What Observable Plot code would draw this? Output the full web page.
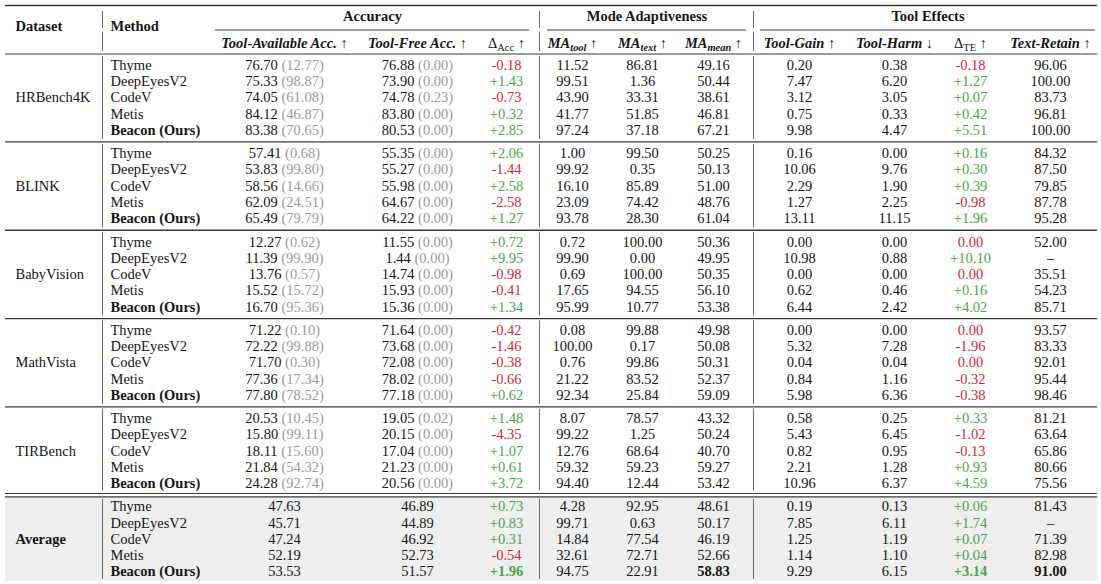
<!DOCTYPE html>
<html>
<head>
<meta charset="utf-8">
<script src="https://cdn.jsdelivr.net/npm/d3@7"></script>
<script src="https://cdn.jsdelivr.net/npm/@observablehq/plot@0.6"></script>
<style>
  html, body { margin: 0; padding: 0; background: #ffffff; }
  #chart { width: 1101px; height: 584px; }
</style>
</head>
<body>
<div id="chart"></div>
<script>
// ---------------- DATA ----------------
const datasets = ["HRBench4K", "BLINK", "BabyVision", "MathVista", "TIRBench", "Average"];
const methods = ["Thyme", "DeepEyesV2", "CodeV", "Metis", "Beacon (Ours)"];
const groupHeaders = ["Accuracy", "Mode Adaptiveness", "Tool Effects"];
const columnHeaders = ["Tool-Available Acc. ↑", "Tool-Free Acc. ↑", "Δ_{Acc} ↑",
  "MA_{tool} ↑", "MA_{text} ↑", "MA_{mean} ↑",
  "Tool-Gain ↑", "Tool-Harm ↓", "Δ_{TE} ↑", "Text-Retain ↑"];

// row = [toolAcc, toolUse, freeAcc, freeUse, dAcc, maTool, maText, maMean, toolGain, toolHarm, dTE, textRetain]
const HRBench4K = [
  [76.70, 12.77, 76.88, 0.00, -0.18, 11.52, 86.81, 49.16, 0.20, 0.38, -0.18, 96.06],
  [75.33, 98.87, 73.90, 0.00, 1.43, 99.51, 1.36, 50.44, 7.47, 6.20, 1.27, 100.00],
  [74.05, 61.08, 74.78, 0.23, -0.73, 43.90, 33.31, 38.61, 3.12, 3.05, 0.07, 83.73],
  [84.12, 46.87, 83.80, 0.00, 0.32, 41.77, 51.85, 46.81, 0.75, 0.33, 0.42, 96.81],
  [83.38, 70.65, 80.53, 0.00, 2.85, 97.24, 37.18, 67.21, 9.98, 4.47, 5.51, 100.00]
];
const BLINK = [
  [57.41, 0.68, 55.35, 0.00, 2.06, 1.00, 99.50, 50.25, 0.16, 0.00, 0.16, 84.32],
  [53.83, 99.80, 55.27, 0.00, -1.44, 99.92, 0.35, 50.13, 10.06, 9.76, 0.30, 87.50],
  [58.56, 14.66, 55.98, 0.00, 2.58, 16.10, 85.89, 51.00, 2.29, 1.90, 0.39, 79.85],
  [62.09, 24.51, 64.67, 0.00, -2.58, 23.09, 74.42, 48.76, 1.27, 2.25, -0.98, 87.78],
  [65.49, 79.79, 64.22, 0.00, 1.27, 93.78, 28.30, 61.04, 13.11, 11.15, 1.96, 95.28]
];
const BabyVision = [
  [12.27, 0.62, 11.55, 0.00, 0.72, 0.72, 100.00, 50.36, 0.00, 0.00, 0.00, 52.00],
  [11.39, 99.90, 1.44, 0.00, 9.95, 99.90, 0.00, 49.95, 10.98, 0.88, 10.10, null],
  [13.76, 0.57, 14.74, 0.00, -0.98, 0.69, 100.00, 50.35, 0.00, 0.00, 0.00, 35.51],
  [15.52, 15.72, 15.93, 0.00, -0.41, 17.65, 94.55, 56.10, 0.62, 0.46, 0.16, 54.23],
  [16.70, 95.36, 15.36, 0.00, 1.34, 95.99, 10.77, 53.38, 6.44, 2.42, 4.02, 85.71]
];
const MathVista = [
  [71.22, 0.10, 71.64, 0.00, -0.42, 0.08, 99.88, 49.98, 0.00, 0.00, 0.00, 93.57],
  [72.22, 99.88, 73.68, 0.00, -1.46, 100.00, 0.17, 50.08, 5.32, 7.28, -1.96, 83.33],
  [71.70, 0.30, 72.08, 0.00, -0.38, 0.76, 99.86, 50.31, 0.04, 0.04, 0.00, 92.01],
  [77.36, 17.34, 78.02, 0.00, -0.66, 21.22, 83.52, 52.37, 0.84, 1.16, -0.32, 95.44],
  [77.80, 78.52, 77.18, 0.00, 0.62, 92.34, 25.84, 59.09, 5.98, 6.36, -0.38, 98.46]
];
const TIRBench = [
  [20.53, 10.45, 19.05, 0.02, 1.48, 8.07, 78.57, 43.32, 0.58, 0.25, 0.33, 81.21],
  [15.80, 99.11, 20.15, 0.00, -4.35, 99.22, 1.25, 50.24, 5.43, 6.45, -1.02, 63.64],
  [18.11, 15.60, 17.04, 0.00, 1.07, 12.76, 68.64, 40.70, 0.82, 0.95, -0.13, 65.86],
  [21.84, 54.32, 21.23, 0.00, 0.61, 59.32, 59.23, 59.27, 2.21, 1.28, 0.93, 80.66],
  [24.28, 92.74, 20.56, 0.00, 3.72, 94.40, 12.44, 53.42, 10.96, 6.37, 4.59, 75.56]
];
const Average = [
  [47.63, null, 46.89, null, 0.73, 4.28, 92.95, 48.61, 0.19, 0.13, 0.06, 81.43],
  [45.71, null, 44.89, null, 0.83, 99.71, 0.63, 50.17, 7.85, 6.11, 1.74, null],
  [47.24, null, 46.92, null, 0.31, 14.84, 77.54, 46.19, 1.25, 1.19, 0.07, 71.39],
  [52.19, null, 52.73, null, -0.54, 32.61, 72.71, 52.66, 1.14, 1.10, 0.04, 82.98],
  [53.53, null, 51.57, null, 1.96, 94.75, 22.91, 58.83, 9.29, 6.15, 3.14, 91.00]
];
const tables = [HRBench4K, BLINK, BabyVision, MathVista, TIRBench, Average];
// best results highlighted in bold: [dataset, method, column index]
const highlighted = [["Average", "Beacon (Ours)", 2], ["Average", "Beacon (Ours)", 5],
  ["Average", "Beacon (Ours)", 8], ["Average", "Beacon (Ours)", 9]];

// ---------------- LAYOUT / STYLE ----------------
const layout = {
  width: 1101, height: 584,
  tableX1: 5, tableX2: 1097,
  topRuleY: 5, groupHeadY: 16, cmidY: 29.5, subHeadY: 42.5, headRuleY: 53.5, cornerHeadY: 25.5,
  firstRowY: 64.8, rowStep: 16.25, groupStep: 88.3,
  datasetX: 15, methodX: 110,
  vlineX: [102, 539, 753],
  colX: [284, 417, 506, 572, 642, 713, 799, 894, 970, 1050],
  groupSpans: [[215, 529], [547, 746], [760, 1095]],
  greyBottom: 581, fontSize: 14.5
};
const style = {
  ink: "#161616", paren: "#9b9b9b", pos: "#4ea24e", neg: "#cf2b3a",
  rule: "#3a3a3a", vline: "#6a6a6a", grey: "#efefef",
  font: "Liberation Serif, Times New Roman, serif"
};

const rowY = (g, r) => layout.firstRowY + g * layout.groupStep + r * layout.rowStep;
const ruleAfter = (g) => rowY(g, 4) + (layout.groupStep - 4 * layout.rowStep) / 2;

const fmt = d3.format(".2f");
const signed = (v) => v > 0 ? "+" + fmt(v) : v < 0 ? "-" + fmt(-v) : fmt(0);

// ---------------- BUILD CELLS ----------------
const cells = [];
tables.forEach((rows, g) => {
  rows.forEach((v, r) => {
    const [toolAcc, toolUse, freeAcc, freeUse, dAcc, maTool, maText, maMean, gain, harm, dTE, retain] = v;
    const texts = [
      toolUse == null ? fmt(toolAcc) : `${fmt(toolAcc)} (${fmt(toolUse)})`,
      freeUse == null ? fmt(freeAcc) : `${fmt(freeAcc)} (${fmt(freeUse)})`,
      signed(dAcc), fmt(maTool), fmt(maText), fmt(maMean), fmt(gain), fmt(harm),
      signed(dTE), retain == null ? "–" : fmt(retain)
    ];
    texts.forEach((t, c) => {
      let fill = style.ink;
      if (c === 2) fill = dAcc > 0 ? style.pos : style.neg;
      if (c === 8) fill = dTE > 0 ? style.pos : style.neg;
      const bold = highlighted.some(([d, m, k]) => d === datasets[g] && m === methods[r] && k === c);
      cells.push({x: layout.colX[c], y: rowY(g, r), text: t, fill, bold});
    });
  });
});

const methodRows = [];
datasets.forEach((d, g) => methods.forEach((m, r) =>
  methodRows.push({x: layout.methodX, y: rowY(g, r), text: m, bold: m === "Beacon (Ours)"})));
const datasetRows = datasets.map((d, g) => ({x: layout.datasetX, y: rowY(g, 2), text: d, bold: d === "Average"}));

const groupHeadRows = groupHeaders.map((h, i) => ({
  x: (layout.groupSpans[i][0] + layout.groupSpans[i][1]) / 2, y: layout.groupHeadY, text: h}));
const colHeadRows = columnHeaders.map((h, i) => ({
  x: layout.colX[i], y: layout.subHeadY, text: h, math: h.startsWith("Δ")}));

// rules
const fullRules = [{y: layout.topRuleY, w: 1.6}, {y: layout.headRuleY, w: 1.1}];
for (let g = 0; g < 4; g++) fullRules.push({y: ruleAfter(g), w: 1.3});
const dbl = ruleAfter(4);
fullRules.push({y: dbl - 1.7, w: 1.1}, {y: dbl + 1.7, w: 1.1});
const cmidRules = layout.groupSpans.map(([a, b]) => ({x1: a, x2: b, y: layout.cmidY}));

const vSegs = [];
layout.vlineX.forEach((x) => {
  vSegs.push({x, y1: layout.topRuleY + 6, y2: layout.cmidY - 1.5});
  vSegs.push({x, y1: layout.cmidY + 2, y2: layout.headRuleY - 2.5});
  for (let g = 0; g < 6; g++) {
    const top = (g === 0 ? layout.headRuleY : g === 5 ? dbl + 1.7 : ruleAfter(g - 1)) + 2.5;
    const bot = g === 5 ? layout.greyBottom - 2 : (g === 4 ? dbl - 1.7 : ruleAfter(g)) - 2.5;
    vSegs.push({x, y1: top, y2: bot});
  }
});

const fs = layout.fontSize;
const T = (data, opts) => Plot.text(data, {x: "x", y: "y", text: "text", fontSize: fs, fontFamily: style.font, fill: style.ink, ...opts});
const plot = Plot.plot({
  width: layout.width, height: layout.height,
  margin: 0,
  x: {type: "linear", domain: [0, layout.width], range: [0, layout.width], axis: null},
  y: {type: "linear", domain: [0, layout.height], range: [0, layout.height], axis: null},
  color: {type: "identity"},
  style: {fontFamily: style.font, fontSize: fs + "px", background: "#fff", color: style.ink},
  marks: [
    Plot.rect([{x1: layout.tableX1, x2: layout.tableX2, y1: dbl + 2.4, y2: layout.greyBottom}],
      {x1: "x1", x2: "x2", y1: "y1", y2: "y2", fill: style.grey}),
    Plot.ruleY(fullRules.filter(d => d.w > 1.5), {y: "y", x1: layout.tableX1, x2: layout.tableX2, stroke: style.rule, strokeWidth: 1.6}),
    Plot.ruleY(fullRules.filter(d => d.w <= 1.5 && d.w > 1.2), {y: "y", x1: layout.tableX1, x2: layout.tableX2, stroke: style.rule, strokeWidth: 1.3}),
    Plot.ruleY(fullRules.filter(d => d.w <= 1.2), {y: "y", x1: layout.tableX1, x2: layout.tableX2, stroke: style.rule, strokeWidth: 1.1}),
    Plot.ruleY(cmidRules, {y: "y", x1: "x1", x2: "x2", stroke: style.rule, strokeWidth: 1.1}),
    Plot.ruleX(vSegs, {x: "x", y1: "y1", y2: "y2", stroke: style.vline, strokeWidth: 1}),
    // header
    T([{x: layout.datasetX, y: layout.cornerHeadY, text: "Dataset"},
       {x: layout.methodX, y: layout.cornerHeadY, text: "Method"}],
      {textAnchor: "start", fontWeight: "bold"}),
    T(groupHeadRows, {fontWeight: "bold"}),
    T(colHeadRows.filter(d => !d.math), {fontWeight: "bold", fontStyle: "italic"}),
    T(colHeadRows.filter(d => d.math), {}),
    // body labels
    T(datasetRows.filter(d => !d.bold), {textAnchor: "start"}),
    T(datasetRows.filter(d => d.bold), {textAnchor: "start", fontWeight: "bold"}),
    T(methodRows.filter(d => !d.bold), {textAnchor: "start"}),
    T(methodRows.filter(d => d.bold), {textAnchor: "start", fontWeight: "bold"}),
    // cells
    T(cells.filter(d => !d.bold), {fill: "fill"}),
    T(cells.filter(d => d.bold), {fill: "fill", fontWeight: "bold"})
  ]
});

// rich text: grey parenthetical ratios, subscripts, upright arrows
const SUB = 3.6;
d3.select(plot).selectAll("text").each(function () {
  const sel = d3.select(this);
  const s = this.textContent;
  const m = s.match(/^(\d+\.\d+) (\(\d+\.\d+\))$/);
  if (m) {
    sel.text(null);
    sel.append("tspan").text(m[1] + " ");
    sel.append("tspan").attr("fill", style.paren).text(m[2]);
    return;
  }
  if (!/_\{|[↑↓]/.test(s)) return;
  sel.text(null);
  const re = /_\{([^}]*)\}|([↑↓])/g;
  let last = 0, mm, pending = 0;
  const add = (t) => {
    const ts = sel.append("tspan").text(t);
    if (pending) { ts.attr("dy", -pending); pending = 0; }
    return ts;
  };
  while ((mm = re.exec(s))) {
    if (mm.index > last) add(s.slice(last, mm.index));
    if (mm[1] != null) {
      add(mm[1]).attr("font-size", "0.72em").attr("dy", SUB);
      pending = SUB;
    } else {
      add(mm[2]).attr("font-weight", "normal").attr("font-style", "normal");
    }
    last = re.lastIndex;
  }
  if (last < s.length) add(s.slice(last));
});

document.getElementById("chart").appendChild(plot);
</script>
</body>
</html>
